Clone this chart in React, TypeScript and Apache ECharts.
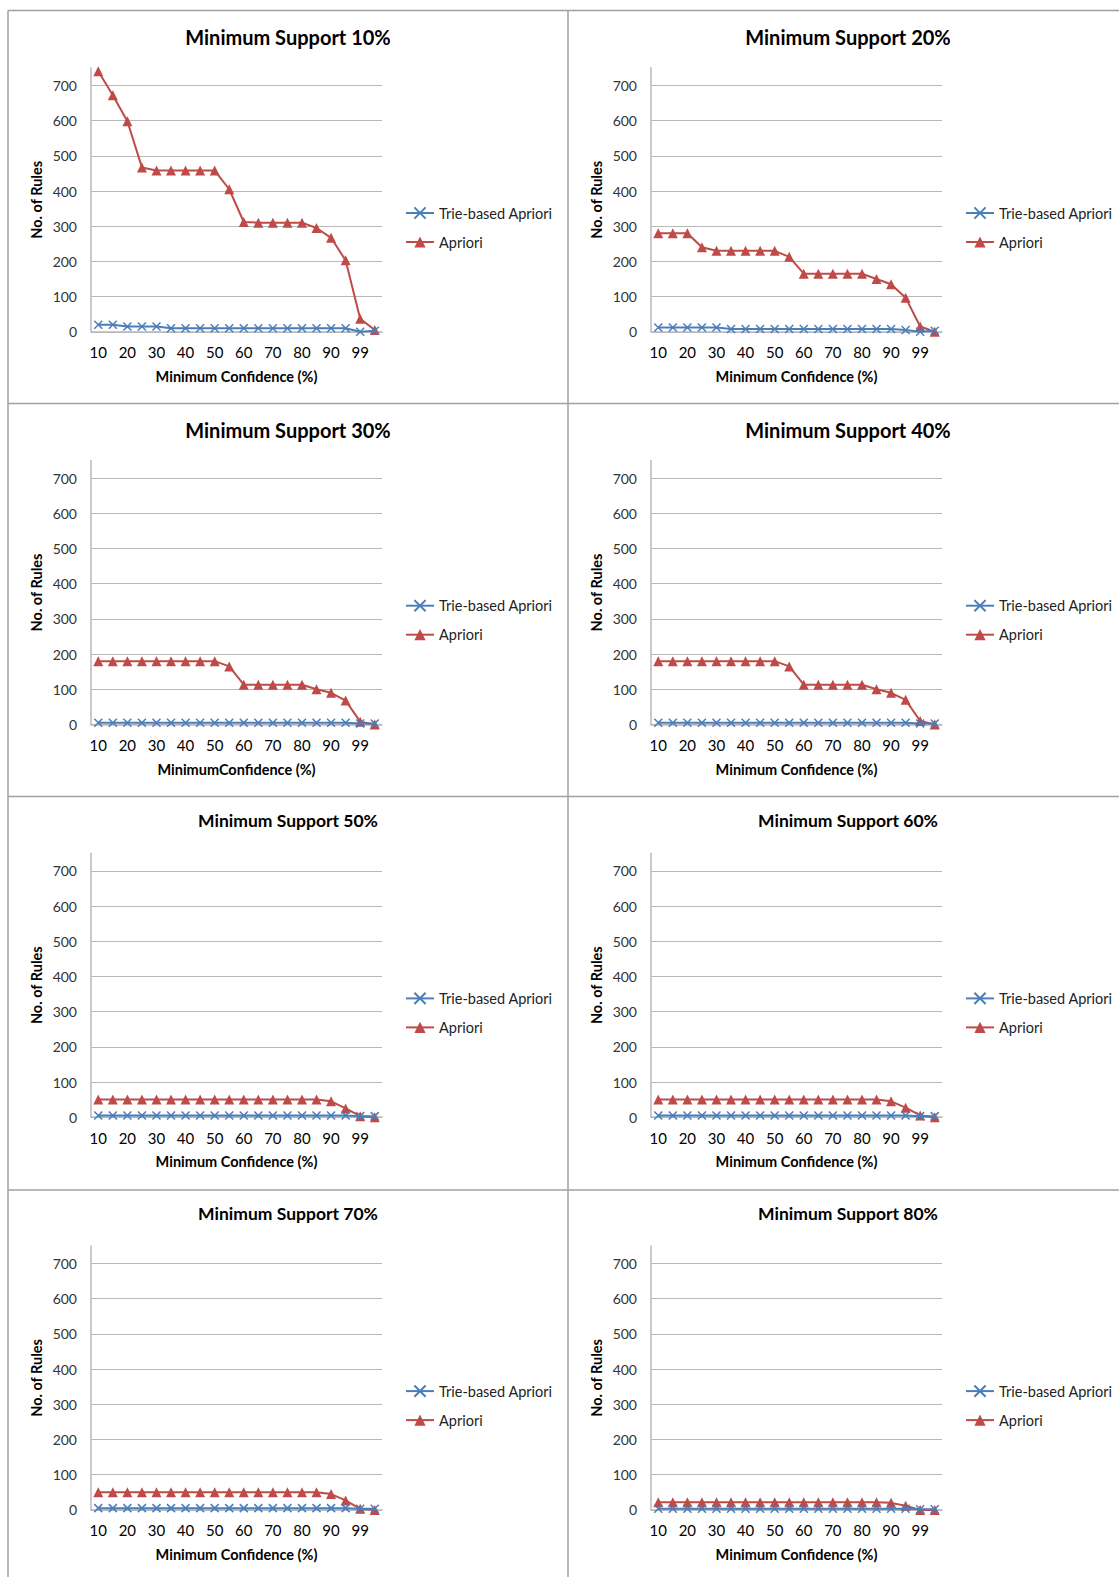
import React, { useEffect, useRef } from "react";
import * as echarts from "echarts";

const CONFIDENCE = ["10", "15", "20", "25", "30", "35", "40", "45", "50", "55", "60", "65", "70", "75", "80", "85", "90", "95", "99", "100"];
const SUPPORT_TITLES = ["Minimum Support 10%", "Minimum Support 20%", "Minimum Support 30%", "Minimum Support 40%", "Minimum Support 50%", "Minimum Support 60%", "Minimum Support 70%", "Minimum Support 80%"];
const X_NAMES = ["Minimum Confidence (%)", "Minimum Confidence (%)", "MinimumConfidence (%)", "Minimum Confidence (%)", "Minimum Confidence (%)", "Minimum Confidence (%)", "Minimum Confidence (%)", "Minimum Confidence (%)"];

const apriori10 = [740, 672, 598, 467, 458, 458, 458, 458, 458, 405, 312, 310, 310, 310, 310, 295, 267, 203, 37, 5];
const trie10 = [20, 20, 15, 15, 15, 10, 10, 10, 10, 10, 10, 10, 10, 10, 10, 10, 10, 10, 0, 3];
const apriori20 = [280, 280, 280, 240, 230, 230, 230, 230, 230, 213, 165, 165, 165, 165, 165, 150, 135, 97, 15, 0];
const trie20 = [12, 12, 12, 12, 12, 8, 8, 8, 8, 8, 8, 8, 8, 8, 8, 8, 8, 5, 0, 3];
const apriori30 = [180, 180, 180, 180, 180, 180, 180, 180, 180, 165, 113, 113, 113, 113, 113, 100, 90, 68, 8, 0];
const trie30 = [5, 5, 5, 5, 5, 5, 5, 5, 5, 5, 5, 5, 5, 5, 5, 5, 5, 5, 3, 3];
const apriori40 = [180, 180, 180, 180, 180, 180, 180, 180, 180, 165, 113, 113, 113, 113, 113, 100, 90, 70, 10, 0];
const trie40 = [5, 5, 5, 5, 5, 5, 5, 5, 5, 5, 5, 5, 5, 5, 5, 5, 5, 5, 3, 3];
const apriori50 = [50, 50, 50, 50, 50, 50, 50, 50, 50, 50, 50, 50, 50, 50, 50, 50, 45, 25, 3, 0];
const trie50 = [5, 5, 5, 5, 5, 5, 5, 5, 5, 5, 5, 5, 5, 5, 5, 5, 5, 5, 3, 3];
const apriori60 = [50, 50, 50, 50, 50, 50, 50, 50, 50, 50, 50, 50, 50, 50, 50, 50, 45, 27, 5, 0];
const trie60 = [5, 5, 5, 5, 5, 5, 5, 5, 5, 5, 5, 5, 5, 5, 5, 5, 5, 5, 3, 3];
const apriori70 = [50, 50, 50, 50, 50, 50, 50, 50, 50, 50, 50, 50, 50, 50, 50, 50, 45, 27, 3, 0];
const trie70 = [5, 5, 5, 5, 5, 5, 5, 5, 5, 5, 5, 5, 5, 5, 5, 5, 5, 5, 3, 3];
const apriori80 = [22, 22, 22, 22, 22, 22, 22, 22, 22, 22, 22, 22, 22, 22, 22, 22, 20, 12, 0, 0];
const trie80 = [3, 3, 3, 3, 3, 3, 3, 3, 3, 3, 3, 3, 3, 3, 3, 3, 3, 3, 2, 2];

const APRIORI = [apriori10, apriori20, apriori30, apriori40, apriori50, apriori60, apriori70, apriori80];
const TRIE = [trie10, trie20, trie30, trie40, trie50, trie60, trie70, trie80];

const BLUE = "#4a7ebb";
const RED = "#be4b48";
const GRID_GRAY = "#b8b8b8";
const BORDER_GRAY = "#a0a0a0";
const FONT = "Lato";
const CROSS = "path://M0,0L10,10M10,0L0,10";

export default function App() {
  const ref = useRef<HTMLDivElement>(null);
  useEffect(() => {
    if (!ref.current) return;
    const chart = echarts.init(ref.current, null, { renderer: "svg" });
    const grids: any[] = [];
    const xAxes: any[] = [];
    const yAxes: any[] = [];
    const legends: any[] = [];
    const series: any[] = [];
    const graphic: any[] = [];
    for (let i = 0; i < 8; i++) {
      const col = i % 2;
      const row = Math.floor(i / 2);
      const x0 = 8 + col * 560;
      const y0 = 10.5 + row * 392.7;
      const big = row < 2;
      graphic.push({
        type: "text",
        x: x0 + 280,
        y: y0 + (big ? 26.5 : 24.5),
        silent: true,
        style: {
          text: SUPPORT_TITLES[i],
          align: "center",
          verticalAlign: "middle",
          font: `bold ${big ? 20 : 17.5}px ${FONT}`,
          fill: "#000",
        },
      });
      grids.push({ left: x0 + 83, top: y0 + 57.3, width: 291, height: 264 });
      xAxes.push({
        type: "category",
        gridIndex: i,
        data: CONFIDENCE,
        boundaryGap: true,
        name: X_NAMES[i],
        nameLocation: "middle",
        nameGap: 37,
        nameTextStyle: { fontFamily: FONT, fontWeight: "bold", fontSize: 14.5, color: "#000" },
        axisLine: { lineStyle: { color: GRID_GRAY, width: 1.5 } },
        axisTick: { show: false },
        axisLabel: { interval: 1, margin: 13, fontFamily: FONT, fontSize: 15, color: "#000" },
      });
      yAxes.push({
        type: "value",
        gridIndex: i,
        min: 0,
        max: 750,
        interval: 100,
        name: "No. of Rules",
        nameLocation: "middle",
        nameGap: 47,
        nameTextStyle: { fontFamily: FONT, fontWeight: "bold", fontSize: 14.5, color: "#000" },
        axisLine: { show: true, lineStyle: { color: GRID_GRAY, width: 1.5 } },
        axisTick: { show: false },
        axisLabel: { margin: 14, fontFamily: FONT, fontSize: 14, color: "#333", showMaxLabel: false },
        splitLine: { show: true, showMaxLine: false, lineStyle: { color: GRID_GRAY, width: 1 } },
      });
      legends.push({
        orient: "vertical",
        left: x0 + 397,
        top: y0 + 195,
        padding: 0,
        itemWidth: 28,
        itemHeight: 14,
        itemGap: 14,
        data: ["Trie-based Apriori", "Apriori"],
        textStyle: { fontFamily: FONT, fontSize: 14.5, color: "#222" },
        selectedMode: false,
      });
      series.push({
        name: "Trie-based Apriori",
        type: "line",
        xAxisIndex: i,
        yAxisIndex: i,
        data: TRIE[i],
        symbol: CROSS,
        symbolSize: 8,
        showAllSymbol: true,
        lineStyle: { color: BLUE, width: 2 },
        itemStyle: { color: BLUE, borderColor: BLUE, borderWidth: 1.5 },
        z: 3,
      });
      series.push({
        name: "Apriori",
        type: "line",
        xAxisIndex: i,
        yAxisIndex: i,
        data: APRIORI[i],
        symbol: "triangle",
        symbolSize: 10,
        showAllSymbol: true,
        lineStyle: { color: RED, width: 2 },
        itemStyle: { color: RED },
        z: 2,
      });
    }
    const rowYs = [10.5, 403.5, 796.5, 1190];
    rowYs.forEach((y) => {
      graphic.push({ type: "line", shape: { x1: 8, y1: y, x2: 1119, y2: y }, style: { stroke: BORDER_GRAY, lineWidth: 1.5 }, silent: true });
    });
    graphic.push({ type: "line", shape: { x1: 8, y1: 10.5, x2: 8, y2: 1577 }, style: { stroke: BORDER_GRAY, lineWidth: 1.5 }, silent: true });
    graphic.push({ type: "line", shape: { x1: 568, y1: 10.5, x2: 568, y2: 1577 }, style: { stroke: BORDER_GRAY, lineWidth: 1.5 }, silent: true });

    chart.setOption({
      animation: false,
      backgroundColor: "#fff",
      grid: grids,
      xAxis: xAxes,
      yAxis: yAxes,
      legend: legends,
      series,
      graphic,
    });
    return () => chart.dispose();
  }, []);
  return <div ref={ref} style={{ position: "absolute", left: 0, top: 0, width: 1119, height: 1577 }} />;
}
